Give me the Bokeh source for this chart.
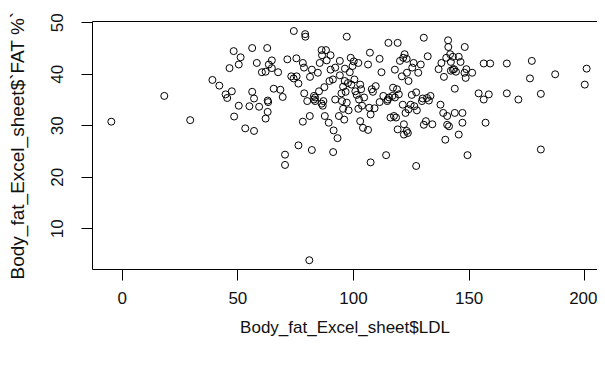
from bokeh.plotting import figure
from bokeh.models import FixedTicker, LinearAxis, Range1d, ColumnDataSource
from bokeh.embed import file_html
from bokeh.resources import INLINE

# LDL values (x) and body-fat % values (y)
ldl = [-4.7, 18.2, 29.4, 39.0, 42.0, 44.7, 45.4, 47.4, 46.4, 48.2, 48.4, 50.4, 51.2, 50.4,
       53.2, 56.2, 56.2, 55.0, 57.0, 57.0, 58.2, 59.2, 60.4, 62.0, 62.7, 62.9, 63.1, 63.4,
       64.7, 62.0, 62.9, 65.5, 64.7, 67.4, 68.4, 69.4, 70.4, 70.4, 71.4, 73.1, 74.2, 74.1,
       75.3, 75.4, 76.2, 76.2, 78.1, 78.1, 79.1, 79.2, 78.7, 78.6, 80.0, 80.9, 81.1, 81.2,
       82.0, 82.0, 82.9, 82.9, 83.4, 83.4, 84.6, 85.1, 85.4, 86.2, 86.4, 86.2, 86.7, 87.0,
       87.4, 87.6, 88.1, 88.4, 89.3, 90.1, 89.6, 90.1, 91.1, 91.4, 91.2, 92.1, 92.1, 93.1,
       93.7, 94.1, 94.1, 94.8, 95.0, 95.5, 95.5, 96.0, 96.2, 96.6, 97.1, 97.1, 97.6, 97.9,
       98.4, 98.8, 99.1, 99.6, 100.1, 100.4, 100.8, 102.1, 102.1, 102.4, 102.9, 102.9, 103.3,
       103.7, 104.1, 104.6, 106.3, 106.3, 106.8, 107.1, 107.4, 107.4, 107.9, 108.4, 109.1,
       109.6, 111.3, 111.3, 112.1, 112.9, 114.1, 114.6, 115.1, 115.4, 116.0, 116.8, 117.1,
       117.5, 117.9, 117.9, 118.4, 118.8, 119.1, 119.1, 119.6, 120.1, 120.9, 121.3, 121.5,
       121.8, 121.8, 122.5, 123.0, 123.0, 123.5, 123.8, 124.7, 125.2, 125.4, 126.0, 126.3,
       127.1, 127.1, 127.4, 128.0, 129.1, 129.9, 130.4, 130.4, 131.3, 131.8, 132.1, 132.6,
       133.3, 134.1, 136.8, 137.6, 138.0, 138.8, 139.1, 139.7, 140.1, 140.5, 140.5, 140.9,
       141.0, 141.3, 141.8, 142.1, 142.1, 143.0, 143.5, 143.8, 143.8, 144.3, 145.5, 146.3,
       147.1, 147.1, 148.1, 148.5, 148.8, 149.3, 151.3, 154.1, 156.3, 156.3, 157.1, 158.5,
       159.1, 166.3, 166.3, 171.3, 176.3, 177.1, 181.0, 181.0, 187.2, 200.0, 200.8,
       101.4, 114.8, 123.8, 129.6, 143.0, 148.0, 145.5, 96.3, 122.1, 123.1]
fat = [30.8, 35.8, 31.1, 38.9, 37.8, 36.1, 35.4, 36.7, 41.2, 44.5, 31.8, 41.9, 43.3, 33.9,
       29.5, 45.1, 36.6, 33.8, 35.3, 29.0, 42.2, 33.7, 40.4, 31.4, 45.1, 34.9, 34.6, 41.9,
       42.7, 40.5, 32.7, 37.2, 41.2, 40.4, 37.0, 35.6, 24.4, 22.4, 42.9, 39.6, 48.4, 39.2,
       43.1, 39.6, 26.2, 38.2, 42.2, 30.8, 47.8, 47.3, 36.3, 41.3, 34.8, 3.9, 31.9, 39.5,
       25.3, 40.9, 35.8, 35.1, 35.5, 34.8, 40.3, 36.7, 42.2, 44.7, 43.7, 34.3, 33.9, 34.8,
       37.5, 31.9, 44.7, 42.7, 30.6, 43.7, 38.7, 40.9, 39.0, 29.1, 24.9, 41.3, 35.1, 27.6,
       31.9, 42.6, 39.8, 36.3, 34.8, 33.3, 37.6, 31.2, 38.7, 36.6, 47.3, 34.5, 38.3, 33.0,
       40.4, 43.2, 38.0, 41.6, 42.5, 39.0, 36.7, 42.2, 33.3, 35.1, 38.0, 30.9, 37.1,
       33.9, 29.6, 35.5, 29.2, 41.9, 33.5, 44.2, 22.9, 32.2, 37.1, 36.6, 33.4,
       37.7, 43.0, 34.6, 40.4, 35.8, 24.3, 34.8, 46.1, 35.5, 31.6, 35.8, 37.4,
       31.9, 35.5, 40.9, 31.6, 37.1, 46.1, 29.3, 36.1, 42.6, 39.6, 34.1, 43.2,
       30.3, 28.3, 32.5, 29.0, 43.0, 28.6, 38.7, 34.1, 36.0, 41.3, 42.2, 33.8,
       22.2, 36.5, 33.0, 40.3, 41.9, 35.3, 47.1, 30.2, 30.9, 35.4, 43.5, 34.9,
       35.8, 30.3, 41.0, 34.1, 42.2, 32.5, 39.5, 27.3, 43.2, 31.9, 30.2, 46.6,
       45.3, 29.9, 43.9, 40.7, 42.4, 43.4, 41.0, 37.2, 32.5, 40.5, 28.3, 42.4,
       32.5, 30.6, 45.3, 39.3, 41.0, 24.3, 40.3, 36.3, 42.1, 35.1, 30.6, 36.1,
       42.1, 42.1, 36.3, 35.1, 39.2, 42.6, 25.4, 36.2, 40.0, 38.0, 41.1,
       36.0, 35.1, 33.2, 34.8, 40.9, 40.3, 43.4, 41.1, 43.9, 40.3]

x_ticks = [0, 50, 100, 150, 200]
y_ticks = [10, 20, 30, 40, 50]
x_title = "Body_fat_Excel_sheet$LDL"
y_title = "Body_fat_Excel_sheet$`FAT %`"

FONT = "Liberation Sans"

p = figure(width=597, height=357, output_backend="svg", toolbar_location=None,
           x_range=Range1d(-12.84, 205.5), y_range=Range1d(2.10, 50.25),
           min_border_left=92, min_border_right=0, min_border_top=21, min_border_bottom=88,
           x_axis_location=None, y_axis_location=None)
p.background_fill_color = "white"
p.border_fill_color = "white"
p.outline_line_color = None
p.grid.visible = False

src = ColumnDataSource(dict(x=ldl, y=fat))
p.scatter("x", "y", source=src, marker="circle", size=7, fill_color=None,
          line_color="black", line_width=1)


def style(ax, ticks, title):
    ax.ticker = FixedTicker(ticks=ticks)
    ax.minor_tick_line_color = None
    ax.major_tick_in = 0
    ax.major_tick_out = 11
    ax.major_tick_line_color = "black"
    ax.axis_line_color = "black"
    ax.axis_line_width = 1
    ax.major_label_text_font = FONT
    ax.major_label_text_font_size = "17px"
    ax.major_label_text_color = "#111111"
    ax.axis_label = title
    ax.axis_label_text_font = FONT
    ax.axis_label_text_font_style = "normal"
    ax.axis_label_text_color = "#111111"


xa = LinearAxis()
style(xa, x_ticks, x_title)
xa.axis_label_text_font_size = "17px"
xa.major_label_standoff = 11
xa.axis_label_standoff = 11
p.add_layout(xa, "below")

ya = LinearAxis()
style(ya, y_ticks, y_title)
ya.axis_label_text_font_size = "19px"
ya.major_label_orientation = "vertical"
ya.major_label_standoff = 18
ya.axis_label_standoff = 21
p.add_layout(ya, "left")

top = LinearAxis(ticker=FixedTicker(ticks=[]), major_label_text_font_size="0px",
                 major_tick_line_color=None, minor_tick_line_color=None,
                 axis_line_color="black")
p.add_layout(top, "above")

open("out.html", "w").write(file_html(p, INLINE))
